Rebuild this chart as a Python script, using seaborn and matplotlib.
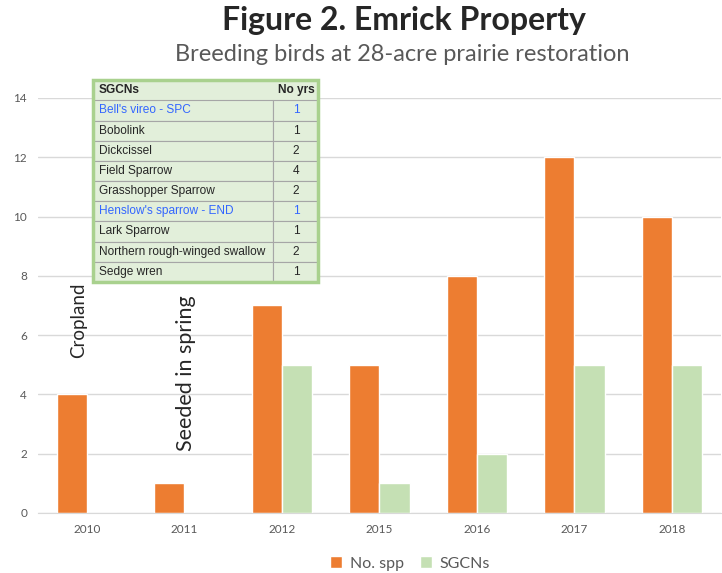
import pandas as pd
import numpy as np
import matplotlib.pyplot as plt
import seaborn as sns

# data
years = ['2010', '2011', '2012', '2015', '2016', '2017', '2018']
no_spp = [4, 1, 7, 5, 8, 12, 10]
sgcns = [0, 0, 5, 1, 2, 5, 5]

table_species = ["Bell's vireo - SPC", 'Bobolink', 'Dickcissel', 'Field Sparrow',
                 'Grasshopper Sparrow', "Henslow's sparrow - END", 'Lark Sparrow',
                 'Northern rough-winged swallow', 'Sedge wren']
table_years = [1, 1, 2, 4, 2, 1, 1, 2, 1]
blue_rows = ["Bell's vireo - SPC", "Henslow's sparrow - END"]

df = pd.DataFrame({'Year': years * 2,
                   'Value': no_spp + sgcns,
                   'Series': ['No. spp'] * len(years) + ['SGCNs'] * len(years)})

sns.set_style('white')
plt.rcParams['font.family'] = ['Lato', 'DejaVu Sans']

fig = plt.figure(figsize=(7.22, 5.73), dpi=100)
ax = fig.add_axes([0.053, 0.105, 0.945, 0.724])

sns.barplot(data=df, x='Year', y='Value', hue='Series',
            palette=['#ED7D31', '#C5E0B4'], width=0.62, saturation=1, ax=ax)

ax.set_ylim(0, 14)
ax.set_yticks(range(0, 15, 2))
ax.grid(axis='y', color='#D9D9D9', linewidth=1)
ax.set_axisbelow(True)
for s in ['top', 'right', 'left']:
    ax.spines[s].set_visible(False)
ax.spines['bottom'].set_color('#D9D9D9')
ax.tick_params(axis='both', length=0, labelsize=8.5, colors='#595959', pad=8)
ax.set_xlabel('')
ax.set_ylabel('')

leg = ax.legend(loc='upper center', bbox_to_anchor=(0.545, -0.07), ncol=2,
                frameon=False, fontsize=11.5, handlelength=0.75, handleheight=0.75,
                columnspacing=1.0, handletextpad=0.5)
for t in leg.get_texts():
    t.set_color('#595959')

fig.text(0.56, 0.965, 'Figure 2. Emrick Property', ha='center', va='center',
         fontsize=23, fontweight='bold')
fig.text(0.557, 0.905, 'Breeding birds at 28-acre prairie restoration', ha='center',
         va='center', fontsize=17, color='#595959')

ax.text(-0.09, 6.5, 'Cropland', rotation=90, ha='center', va='center', fontsize=13.5)
ax.text(1.02, 4.7, 'Seeded in spring', rotation=90, ha='center', va='center', fontsize=15.5)

# inset table of SGCNs
tax = fig.add_axes([0.129, 0.508, 0.312, 0.352])
tax.axis('off')
cells = [[n, str(v)] for n, v in zip(table_species, table_years)]
tbl = tax.table(cellText=cells, colLabels=['SGCNs', 'No yrs'],
                colWidths=[0.8, 0.2], bbox=[0, 0, 1, 1], cellLoc='left')
tbl.auto_set_font_size(False)
for (r, c), cell in tbl.get_celld().items():
    cell.set_facecolor('#E2EFDA')
    cell.set_edgecolor('#A6A6A6')
    cell.set_linewidth(0.8)
    cell.PAD = 0.03
    txt = cell.get_text()
    txt.set_fontsize(8.6)
    txt.set_fontfamily('Liberation Sans')
    txt.set_color('#262626')
    if c == 1:
        cell._loc = 'center'
        txt.set_ha('center')
    else:
        cell._loc = 'left'
        txt.set_ha('left')
    if r == 0:
        txt.set_fontweight('bold')
        cell.set_edgecolor('#E2EFDA')
    elif table_species[r - 1] in blue_rows:
        txt.set_color('#3366FF')
tax.add_patch(plt.Rectangle((0, 0), 1, 1, transform=tax.transAxes, fill=False,
                            edgecolor='#A9D18E', linewidth=2.5, clip_on=False))

fig.savefig('out.png', dpi=100)
